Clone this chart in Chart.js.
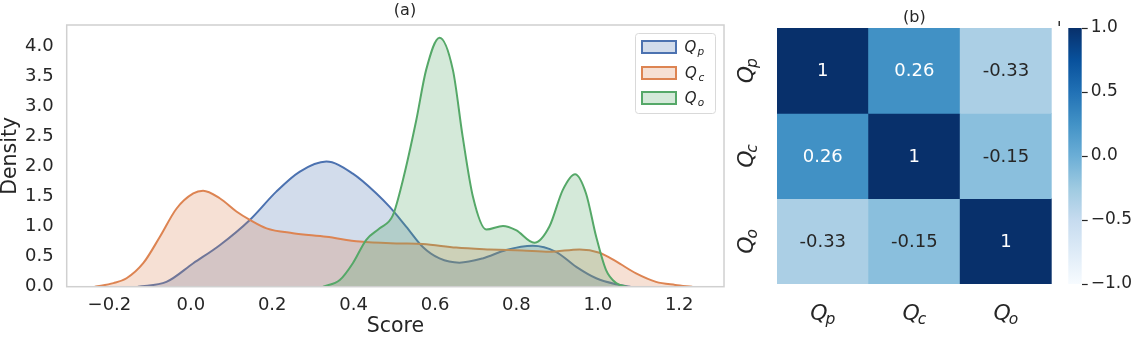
<!DOCTYPE html>
<html><head><meta charset="utf-8">
<script src="https://cdn.jsdelivr.net/npm/chart.js@4.4.1/dist/chart.umd.min.js"></script>
<style>
html,body{margin:0;padding:0;background:#fff;overflow:hidden}
#wrap{position:relative;width:1138px;height:337px;background:#fff}
canvas{position:absolute;top:0}
</style></head><body>
<div id="wrap">
<canvas id="kde" width="740" height="337" style="left:0;width:740px;height:337px"></canvas>
<canvas id="heat" width="330" height="337" style="left:730px;width:330px;height:337px"></canvas>
<canvas id="cbar" width="78" height="337" style="left:1060px;width:78px;height:337px"></canvas>
</div>
<script>
// ---------- data ----------
const seriesSubs = ['p', 'c', 'o'];           // Q_p, Q_c, Q_o
const qpX = [-0.13, -0.06, 0.006, 0.071, 0.145, 0.21, 0.267, 0.333, 0.398, 0.456, 0.488, 0.529, 0.57, 0.611, 0.66, 0.717, 0.775, 0.84, 0.897, 0.947, 0.996, 1.045, 1.08];
const qpY = [0, 0.08, 0.39, 0.69, 1.11, 1.58, 1.91, 2.08, 1.88, 1.55, 1.33, 1.0, 0.66, 0.47, 0.40, 0.47, 0.61, 0.68, 0.58, 0.33, 0.14, 0.04, 0];
const qcX = [-0.236, -0.19, -0.158, -0.117, -0.076, -0.035, 0.006, 0.03, 0.071, 0.112, 0.145, 0.186, 0.251, 0.333, 0.415, 0.505, 0.57, 0.652, 0.734, 0.815, 0.881, 0.955, 1.004, 1.045, 1.094, 1.143, 1.19, 1.232];
const qcY = [0, 0.06, 0.14, 0.39, 0.83, 1.30, 1.55, 1.595, 1.47, 1.25, 1.11, 0.97, 0.89, 0.83, 0.75, 0.72, 0.71, 0.65, 0.62, 0.60, 0.58, 0.62, 0.565, 0.42, 0.22, 0.08, 0.03, 0];
const qoX = [0.325, 0.366, 0.398, 0.431, 0.464, 0.496, 0.521, 0.554, 0.578, 0.611, 0.644, 0.668, 0.693, 0.726, 0.767, 0.799, 0.844, 0.881, 0.914, 0.944, 0.971, 0.996, 1.02, 1.045, 1.07];
const qoY = [0, 0.11, 0.39, 0.78, 0.97, 1.18, 1.77, 2.77, 3.6, 4.14, 3.6, 2.49, 1.50, 0.95, 1.01, 0.94, 0.73, 1.0, 1.61, 1.87, 1.55, 0.83, 0.28, 0.06, 0];
const scoreTicks = [-0.2, 0.0, 0.2, 0.4, 0.6, 0.8, 1.0, 1.2];
const densityTicks = [0.0, 0.5, 1.0, 1.5, 2.0, 2.5, 3.0, 3.5, 4.0];

const heatSubs = ['p', 'c', 'o'];
const corrQp = [1, 0.26, -0.33];
const corrQc = [0.26, 1, -0.15];
const corrQo = [-0.33, -0.15, 1];
const corrLabels = [['1', '0.26', '-0.33'], ['0.26', '1', '-0.15'], ['-0.33', '-0.15', '1']];
const cbarTicks = [-1.0, -0.5, 0.0, 0.5, 1.0];

// ---------- styles ----------
const FONT = "'DejaVu Sans', sans-serif";
const TXT = '#262626';
const lineColors = ['#4c72b0', '#dd8452', '#55a868'];
const fillColors = ['rgba(76,114,176,0.25)', 'rgba(221,132,82,0.25)', 'rgba(85,168,104,0.25)'];
const blues = ['#f7fbff', '#deebf7', '#c6dbef', '#9ecae1', '#6baed6', '#4292c6', '#2171b5', '#08519c', '#08306b'];

function hex2rgb(h) { return [parseInt(h.slice(1, 3), 16), parseInt(h.slice(3, 5), 16), parseInt(h.slice(5, 7), 16)]; }
function bluesAt(t) {
  t = Math.max(0, Math.min(1, t));
  const p = t * (blues.length - 1), i = Math.min(Math.floor(p), blues.length - 2), f = p - i;
  const a = hex2rgb(blues[i]), b = hex2rgb(blues[i + 1]);
  return 'rgb(' + a.map((v, k) => Math.round(v + (b[k] - v) * f)).join(',') + ')';
}
function fmt1(v) { return v.toFixed(1).replace('-', '\u2212'); }
function pts(xs, ys) { return xs.map((x, i) => ({ x: x, y: ys[i] })); }

// draws italic Q with subscript, centered at (cx, cy) (cy = middle of Q)
function drawQ(ctx, sub, cx, cy, size, subSize, color, rotate) {
  ctx.save();
  ctx.translate(cx, cy);
  if (rotate) ctx.rotate(-Math.PI / 2);
  ctx.fillStyle = color;
  ctx.textBaseline = 'alphabetic';
  ctx.font = 'italic ' + size + 'px ' + FONT;
  const wq = ctx.measureText('Q').width - size * 0.1;
  ctx.font = 'italic ' + subSize + 'px ' + FONT;
  const ws = ctx.measureText(sub).width;
  const total = wq + ws;
  const base = size * 0.365;
  ctx.font = 'italic ' + size + 'px ' + FONT;
  ctx.fillText('Q', -total / 2, base);
  ctx.font = 'italic ' + subSize + 'px ' + FONT;
  ctx.fillText(sub, -total / 2 + wq, base + size * 0.17);
  ctx.restore();
}

// ---------- KDE chart ----------
const kdeFrame = {
  id: 'kdeFrame',
  afterDatasetsDraw(chart) {
    const a = chart.chartArea, ctx = chart.ctx;
    ctx.save();
    ctx.strokeStyle = '#d0d0d0';
    ctx.lineWidth = 1.5;
    ctx.strokeRect(a.left, a.top, a.right - a.left, a.bottom - a.top);
    ctx.restore();
  },
  afterDraw(chart) {
    const ctx = chart.ctx;
    // title
    ctx.save();
    ctx.fillStyle = TXT;
    ctx.font = '16px ' + FONT;
    ctx.textAlign = 'center';
    ctx.textBaseline = 'middle';
    ctx.fillText('(a)', 405, 11);
    // legend
    const lx = 635, ly = 33, lw = 80, lh = 80;
    ctx.beginPath();
    ctx.roundRect(lx + 0.5, ly + 0.5, lw, lh, 3);
    ctx.fillStyle = 'rgba(255,255,255,0.8)';
    ctx.fill();
    ctx.strokeStyle = '#d9d9d9';
    ctx.lineWidth = 1;
    ctx.stroke();
    const rows = [47, 73, 98];
    seriesSubs.forEach((s, i) => {
      ctx.fillStyle = '#ffffff';
      ctx.fillRect(642, rows[i] - 6, 34, 12);
      ctx.fillStyle = fillColors[i];
      ctx.fillRect(642, rows[i] - 6, 34, 12);
      ctx.strokeStyle = lineColors[i];
      ctx.lineWidth = 2;
      ctx.strokeRect(642, rows[i] - 6, 34, 12);
      drawQ(ctx, s, 699, rows[i], 15, 10.5, TXT, false);
    });
    ctx.restore();
  }
};

const qData = [pts(qpX, qpY), pts(qcX, qcY), pts(qoX, qoY)];
new Chart(document.getElementById('kde'), {
  type: 'line',
  data: {
    datasets: qData.map((d, i) => ({
      label: 'Q' + seriesSubs[i],
      data: d,
      borderColor: lineColors[i],
      backgroundColor: fillColors[i],
      fill: 'origin',
      borderWidth: 2,
      pointRadius: 0,
      cubicInterpolationMode: 'monotone',
      order: 3 - i
    }))
  },
  options: {
    responsive: false,
    animation: false,
    events: [],
    layout: { padding: { top: 25, right: 16, left: 0, bottom: 0 } },
    plugins: { legend: { display: false }, tooltip: { enabled: false }, filler: { drawTime: 'beforeDatasetDraw' } },
    scales: {
      x: {
        type: 'linear', min: -0.305, max: 1.31,
        afterBuildTicks: s => { s.ticks = scoreTicks.map(v => ({ value: v })); },
        afterFit: s => { s.height = 50.3; },
        ticks: { font: { size: 18, family: FONT }, color: TXT, padding: 8, maxRotation: 0, autoSkip: false, callback: v => fmt1(v) },
        grid: { display: false, drawTicks: false },
        border: { display: false },
        title: { display: true, text: 'Score', font: { size: 20.5, family: FONT, lineHeight: 1 }, color: TXT, padding: 0 }
      },
      y: {
        type: 'linear', min: 0, max: 4.35,
        afterBuildTicks: s => { s.ticks = densityTicks.map(v => ({ value: v })); },
        afterFit: s => { s.width = 66.7; },
        ticks: { font: { size: 18, family: FONT }, color: TXT, padding: 13, autoSkip: false, callback: v => fmt1(v) },
        grid: { display: false, drawTicks: false },
        border: { display: false },
        title: { display: true, text: 'Density', font: { size: 20.5, family: FONT, lineHeight: 1 }, color: TXT, padding: 0 }
      }
    }
  },
  plugins: [kdeFrame]
});

// ---------- heatmap ----------
const corrRows = [corrQp, corrQc, corrQo];
const heatDecor = {
  id: 'heatDecor',
  afterDraw(chart) {
    const ctx = chart.ctx, xs = chart.scales.x, ys = chart.scales.y;
    ctx.save();
    // annotations
    ctx.font = '18px ' + FONT;
    ctx.textAlign = 'center';
    ctx.textBaseline = 'middle';
    corrRows.forEach((row, r) => {
      row.forEach((v, c) => {
        const x = xs.getPixelForValue(c);
        const y = ys.getPixelForValue(r + 0.5);
        ctx.fillStyle = v > 0.1 ? '#ffffff' : TXT;
        ctx.fillText(corrLabels[r][c], x, y + 1);
      });
    });
    ctx.textAlign = 'left';
    // axis labels
    heatSubs.forEach((s, i) => {
      drawQ(ctx, s, xs.getPixelForValue(i), 312, 22, 15.5, TXT, false);
      drawQ(ctx, s, 15, ys.getPixelForValue(i + 0.5), 22, 15.5, TXT, true);
    });
    // title
    ctx.textAlign = 'center';
    ctx.font = '16px ' + FONT;
    ctx.fillStyle = TXT;
    ctx.fillText('(b)', (chart.chartArea.left + chart.chartArea.right) / 2, 18);
    // small mark near colorbar
    ctx.fillStyle = '#333';
    ctx.fillRect(328.5, 21, 1.6, 5);
    ctx.restore();
  }
};
new Chart(document.getElementById('heat'), {
  type: 'bar',
  data: {
    labels: heatSubs.map(s => 'Q' + s),
    datasets: corrRows.map((row, r) => ({
      label: 'row' + r,
      data: row.map(() => [r, r + 1]),
      backgroundColor: row.map(v => bluesAt((v + 1) / 2)),
      borderWidth: 0,
      barPercentage: 1,
      categoryPercentage: 1,
      grouped: false
    }))
  },
  options: {
    responsive: false,
    animation: false,
    events: [],
    layout: { padding: { left: 47, right: 8.3, top: 28, bottom: 53 } },
    plugins: { legend: { display: false }, tooltip: { enabled: false } },
    scales: {
      x: { type: 'category', display: false },
      y: { type: 'linear', min: 0, max: 3, reverse: true, display: false }
    }
  },
  plugins: [heatDecor]
});

// ---------- colorbar ----------
new Chart(document.getElementById('cbar'), {
  type: 'bar',
  data: {
    labels: ['cbar'],
    datasets: [{
      data: [[-1, 1]],
      borderWidth: 0,
      barPercentage: 1,
      categoryPercentage: 1,
      backgroundColor: ctx => {
        const area = ctx.chart.chartArea;
        if (!area) return blues[4];
        const g = ctx.chart.ctx.createLinearGradient(0, area.bottom, 0, area.top);
        blues.forEach((c, i) => g.addColorStop(i / (blues.length - 1), c));
        return g;
      }
    }]
  },
  options: {
    responsive: false,
    animation: false,
    events: [],
    layout: { padding: { left: 8.3, right: 0, top: 28, bottom: 53 } },
    plugins: { legend: { display: false }, tooltip: { enabled: false } },
    scales: {
      x: { display: false },
      y: {
        type: 'linear', position: 'right', min: -1, max: 1,
        afterBuildTicks: s => { s.ticks = cbarTicks.map(v => ({ value: v })); },
        afterFit: s => { s.width = 56.3; },
        ticks: { font: { size: 17, family: FONT }, color: TXT, padding: 3, autoSkip: false, callback: v => fmt1(v) },
        grid: { drawOnChartArea: false, drawTicks: true, tickLength: 6, color: TXT, tickWidth: 1.2 },
        border: { display: false }
      }
    }
  }
});
</script>
</body></html>
